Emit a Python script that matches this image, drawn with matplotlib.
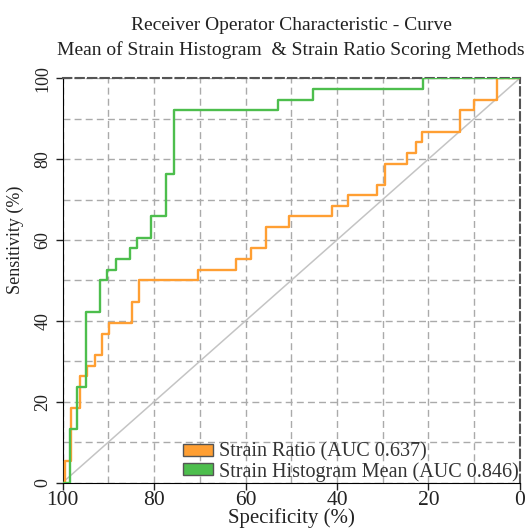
import matplotlib.pyplot as plt
import matplotlib.patches as mpatches
from matplotlib.ticker import MultipleLocator

# ROC step vertices: specificity (%) where the curve rises, sensitivity (%) reached
ratio_spec = [100, 99.5, 98.2, 96.2, 94.6, 92.9, 91.3, 89.9, 84.8, 83.2, 70.3, 62.1,
              58.8, 55.5, 50.4, 41.0, 37.5, 31.2, 29.5, 24.6, 22.8, 21.3, 13.1, 10.0,
              4.9, 0]
ratio_sens = [0, 5.3, 18.4, 26.3, 28.9, 31.6, 36.8, 39.5, 44.7, 50.0, 52.6, 55.3,
              57.9, 63.2, 65.8, 68.4, 71.1, 73.7, 78.9, 81.6, 84.2, 86.8, 92.1, 94.7,
              100, 100]

hist_spec = [100, 98.3, 96.8, 95.0, 91.8, 90.2, 88.4, 85.3, 83.8, 80.6, 77.3, 75.6,
             53.0, 45.2, 21.1, 0]
hist_sens = [0, 13.2, 23.7, 42.1, 50.0, 52.6, 55.3, 57.9, 60.5, 65.8, 76.3, 92.1,
             94.7, 97.4, 100, 100]

labels = ['Strain Ratio (AUC 0.637)', 'Strain Histogram Mean (AUC 0.846)']
colors = ['#FF9F33', '#4DBE4D']

plt.rcParams['font.family'] = ['Liberation Serif', 'DejaVu Serif']

fig = plt.figure(figsize=(5.31, 5.32), dpi=100)
ax = fig.add_axes([0.118, 0.093, 0.861, 0.760])

ax.plot([100, 0], [0, 100], color='#c4c4c4', lw=1.1, zorder=2)
ax.plot(ratio_spec, ratio_sens, drawstyle='steps-post', color=colors[0], lw=1.7, zorder=3)
ax.plot(hist_spec, hist_sens, drawstyle='steps-post', color=colors[1], lw=1.7, zorder=4)

ax.set_xlim(100, 0)
ax.set_ylim(0, 100)
ax.xaxis.set_major_locator(MultipleLocator(20))
ax.yaxis.set_major_locator(MultipleLocator(20))
ax.xaxis.set_minor_locator(MultipleLocator(10))
ax.yaxis.set_minor_locator(MultipleLocator(10))
ax.tick_params(which='minor', length=0)
ax.tick_params(which='major', length=5, width=1, pad=1, colors='#222222')
ax.tick_params(axis='x', labelsize=15.5)
ax.tick_params(axis='y', labelsize=13, pad=3)
for t in ax.get_yticklabels():
    t.set_rotation(90)
    t.set_va('center')
ax.grid(True, which='both', color='#aaaaaa', ls=(0, (5, 3)), lw=1)
ax.set_axisbelow(True)

for s in ['top', 'right']:
    ax.spines[s].set_linestyle((0, (4, 2)))
    ax.spines[s].set_color('#555555')
    ax.spines[s].set_linewidth(1.5)

ax.set_xlabel('Specificity (%)', fontsize=15, labelpad=-1, color='#222222')
ax.set_ylabel('Sensitivity (%)', fontsize=13, color='#222222')
ax.yaxis.set_label_coords(-0.085, 0.6)
ax.set_title('Receiver Operator Characteristic - Curve\n'
             'Mean of Strain Histogram  & Strain Ratio Scoring Methods',
             fontsize=14, color='#222222', pad=17, linespacing=1.45)

handles = [mpatches.Patch(facecolor=c, edgecolor='#555555', lw=1) for c in colors]
ax.legend(handles, labels, loc='lower right', frameon=False, fontsize=14.5,
          handlelength=1.5, handleheight=0.55, handletextpad=0.3,
          labelspacing=0.0, borderaxespad=0.0, borderpad=0.05,
          labelcolor='#333333')

fig.savefig('out.png', dpi=100)
